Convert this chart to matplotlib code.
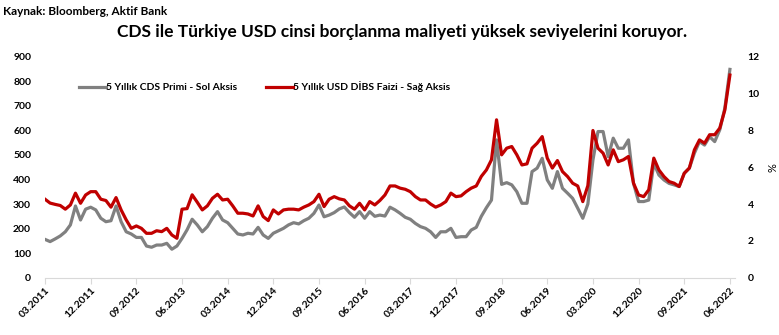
import numpy as np
import pandas as pd
import matplotlib
matplotlib.use("Agg")
import matplotlib.pyplot as plt

plt.rcParams["font.family"] = ["Lato", "DejaVu Sans"]
plt.rcParams["font.weight"] = "bold"

# Aylık veriler 03.2011 - 06.2022
aylar = pd.date_range("2011-03-01", "2022-06-01", freq="MS")

cds = [156, 147, 158, 170, 187, 215, 292, 235, 279, 287, 276, 242, 228, 232, 292, 228,
       187, 178, 164, 164, 129, 124, 133, 133, 140, 116, 129, 160, 195, 238, 215, 187,
       208, 242, 269, 235, 224, 201, 178, 174, 181, 178, 205, 174, 160, 181, 191, 201,
       215, 224, 219, 232, 242, 262, 296, 248, 255, 265, 280, 288, 265, 246, 269, 242,
       269, 250, 255, 251, 287, 276, 262, 246, 238, 221, 208, 201, 187, 164, 187, 187,
       201, 164, 167, 167, 194, 205, 250, 285, 316, 561, 380, 387, 378, 350, 303, 303,
       432, 446, 486, 398, 364, 432, 364, 344, 323, 283, 242, 300, 479, 595, 595, 493,
       568, 527, 527, 561, 384, 310, 310, 316, 466, 418, 398, 384, 378, 371, 425, 446,
       507, 554, 540, 574, 554, 602, 690, 848]

dibs = [4.26, 4.05, 3.98, 3.92, 3.72, 3.95, 4.59, 4.04, 4.49, 4.67, 4.67, 4.26, 4.19, 3.83,
        4.35, 3.68, 3.14, 2.68, 2.81, 2.68, 2.41, 2.41, 2.55, 2.50, 2.68, 2.32, 2.14, 3.72,
        3.75, 4.50, 4.10, 3.68, 3.90, 4.31, 4.53, 4.22, 4.26, 3.90, 3.50, 3.50, 3.46, 3.35,
        3.90, 3.32, 3.10, 3.68, 3.46, 3.68, 3.72, 3.72, 3.68, 3.83, 3.95, 4.13, 4.53, 3.86,
        4.26, 4.40, 4.28, 4.22, 3.90, 3.72, 4.04, 3.68, 4.13, 3.95, 4.19, 4.49, 4.98, 4.98,
        4.86, 4.80, 4.67, 4.40, 4.22, 4.22, 4.00, 3.83, 3.95, 4.13, 4.59, 4.40, 4.44, 4.67,
        4.86, 4.98, 5.50, 5.85, 6.40, 8.57, 6.67, 7.03, 7.12, 6.67, 6.12, 6.18, 7.03, 7.30,
        7.66, 6.49, 5.95, 6.36, 5.76, 5.49, 5.13, 4.98, 4.13, 5.00, 7.99, 7.03, 6.76, 6.12,
        6.94, 6.30, 6.40, 6.58, 5.13, 4.49, 4.40, 4.77, 6.49, 5.85, 5.49, 5.22, 5.13, 4.95,
        5.67, 5.95, 6.94, 7.48, 7.30, 7.76, 7.76, 8.12, 9.10, 11.00]

x = np.arange(len(aylar))
etiketler = [d.strftime("%m.%Y") for d in aylar]

fig = plt.figure(figsize=(7.79, 3.35), dpi=100)
ax = fig.add_axes([0.0578, 0.171, 0.8857, 0.66])
ax2 = ax.twinx()

l1, = ax.plot(x, cds, color="#808080", lw=2.3, label="5 Yıllık CDS Primi - Sol Aksis")
l2, = ax2.plot(x, dibs, color="#c00000", lw=2.3, label="5 Yıllık USD DİBS Faizi - Sağ Aksis")

ax.set_xlim(0, 136)
ax.set_ylim(0, 900)
ax.set_yticks(range(0, 901, 100))
ax2.set_ylim(0, 12)
ax2.set_yticks(range(0, 13, 2))

ax.set_xticks(x[::9])
ax.set_xticklabels(etiketler[::9], rotation=45, ha="right", rotation_mode="anchor", fontsize=7.5)

for a in (ax, ax2):
    for s in a.spines.values():
        s.set_visible(False)
    a.tick_params(axis="y", length=0, labelsize=7.5)
ax.spines["bottom"].set_visible(True)
ax.spines["bottom"].set_color("#d9d9d9")
ax.tick_params(axis="x", length=4, color="#d9d9d9", pad=2)
ax.tick_params(axis="y", pad=10)
ax2.tick_params(axis="y", pad=9)

ax2.set_ylabel("%", fontsize=8, labelpad=6)

ax.legend(handles=[l1, l2], loc="upper left", bbox_to_anchor=(0.035, 0.93), ncol=2,
          frameon=False, fontsize=7.5, handlelength=2.6, handletextpad=0.0,
          columnspacing=2.8)

fig.text(0.004, 0.965, "Kaynak: Bloomberg, Aktif Bank", fontsize=8.5, va="center")
fig.text(0.516, 0.905, "CDS ile Türkiye USD cinsi borçlanma maliyeti yüksek seviyelerini koruyor.",
         fontsize=12.5, ha="center", va="center")

fig.savefig("out.png", dpi=100)
